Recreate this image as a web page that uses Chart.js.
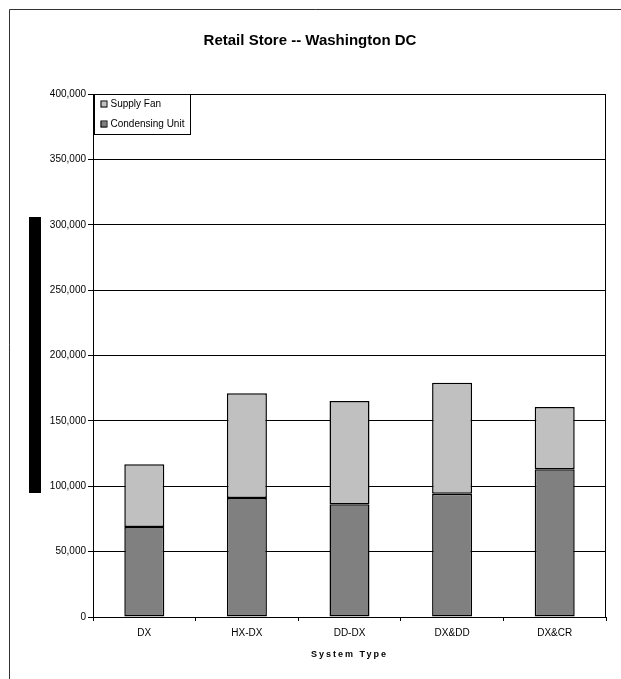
<!DOCTYPE html>
<html>
<head>
<meta charset="utf-8">
<title>Retail Store -- Washington DC</title>
<script src="https://cdn.jsdelivr.net/npm/chart.js@4"></script>
<style>
  html, body { margin: 0; padding: 0; background: #fff; overflow: hidden; }
  #chart { display: block; }
</style>
</head>
<body>
<canvas id="chart" width="621" height="679"></canvas>
<script>
// system types and energy per component
const categories = ["DX", "HX-DX", "DD-DX", "DX&DD", "DX&CR"];
const condensingUnit = [68800, 91000, 86200, 94300, 113000];
const supplyFan = [48000, 80100, 79000, 84900, 47600];
const yTicks = [0, 50000, 100000, 150000, 200000, 250000, 300000, 350000, 400000];
const xTitle = "System Type";

const FONT = "'Liberation Sans', Arial, sans-serif";

// white page, outer frame, plot frame, the black side block, spaced axis title and boxed legend
const decor = {
  id: "decor",
  beforeDraw(chart) {
    const c = chart.ctx;
    c.save();
    c.fillStyle = "#fff";
    c.fillRect(0, 0, chart.width, chart.height);
    c.strokeStyle = "#333";
    c.lineWidth = 1;
    c.beginPath();
    c.moveTo(9.5, chart.height);
    c.lineTo(9.5, 9.5);
    c.lineTo(chart.width, 9.5);
    c.stroke();
    c.fillStyle = "#000";
    c.fillRect(29, 217, 12, 276);
    c.restore();
  },
  afterDraw(chart) {
    const c = chart.ctx;
    const a = chart.chartArea;
    c.save();
    c.strokeStyle = "#000";
    c.lineWidth = 1;
    c.strokeRect(Math.round(a.left) + 0.5, Math.round(a.top) + 0.5,
      Math.round(a.right - a.left) - 1, Math.round(a.bottom - a.top));

    // x axis title with wide letter spacing
    c.fillStyle = "#000";
    c.font = "bold 9px " + FONT;
    c.textAlign = "center";
    c.textBaseline = "middle";
    if ("letterSpacing" in c) c.letterSpacing = "2px";
    c.fillText(xTitle, (a.left + a.right) / 2, 655);
    if ("letterSpacing" in c) c.letterSpacing = "0px";

    // legend, top series first
    const items = chart.data.datasets.slice().reverse();
    const x0 = Math.round(a.left) + 1.5, y0 = Math.round(a.top) + 0.5;
    c.fillStyle = "#fff";
    c.fillRect(x0, y0, 96, 40);
    c.strokeRect(x0, y0, 96, 40);
    c.font = "10px " + FONT;
    c.textAlign = "left";
    items.forEach((ds, i) => {
      const cy = y0 + 10 + i * 20;
      c.fillStyle = ds.backgroundColor;
      c.fillRect(x0 + 6, cy - 3, 6, 6);
      c.strokeRect(x0 + 6.5, cy - 3.5, 6, 6);
      c.fillStyle = "#000";
      c.fillText(ds.label, x0 + 16, cy);
    });
    c.restore();
  }
};

new Chart(document.getElementById("chart"), {
  type: "bar",
  data: {
    labels: categories,
    datasets: [
      {
        label: "Condensing Unit",
        data: condensingUnit,
        backgroundColor: "#808080",
        borderColor: "#000",
        borderWidth: 1.5,
        borderSkipped: false
      },
      {
        label: "Supply Fan",
        data: supplyFan,
        backgroundColor: "#C0C0C0",
        borderColor: "#000",
        borderWidth: 1.5,
        borderSkipped: false
      }
    ]
  },
  options: {
    responsive: false,
    animation: false,
    devicePixelRatio: 1,
    layout: { padding: { left: 14, right: 15, top: 0, bottom: 0 } },
    datasets: { bar: { categoryPercentage: 1, barPercentage: 0.39 } },
    plugins: {
      legend: { display: false },
      tooltip: { enabled: false },
      title: {
        display: true,
        text: "Retail Store -- Washington DC",
        color: "#000",
        font: { family: FONT, size: 15, weight: "bold" },
        padding: { top: 32, bottom: 44 }
      }
    },
    scales: {
      x: {
        stacked: true,
        grid: { offset: true, drawOnChartArea: false, drawTicks: true, tickLength: 4, color: "#000" },
        border: { color: "#000" },
        ticks: { color: "#000", font: { family: FONT, size: 10 }, padding: 6 },
        afterFit(s) { s.height = 62; }
      },
      y: {
        stacked: true,
        min: 0,
        max: 400000,
        afterBuildTicks(s) { s.ticks = yTicks.map(v => ({ value: v })); },
        grid: { color: "#000", tickLength: 5 },
        border: { color: "#000" },
        ticks: {
          color: "#000",
          font: { family: FONT, size: 10 },
          padding: 2,
          callback: v => v.toLocaleString("en-US")
        },
        afterFit(s) { s.width = 79; }
      }
    }
  },
  plugins: [decor]
});
</script>
</body>
</html>
